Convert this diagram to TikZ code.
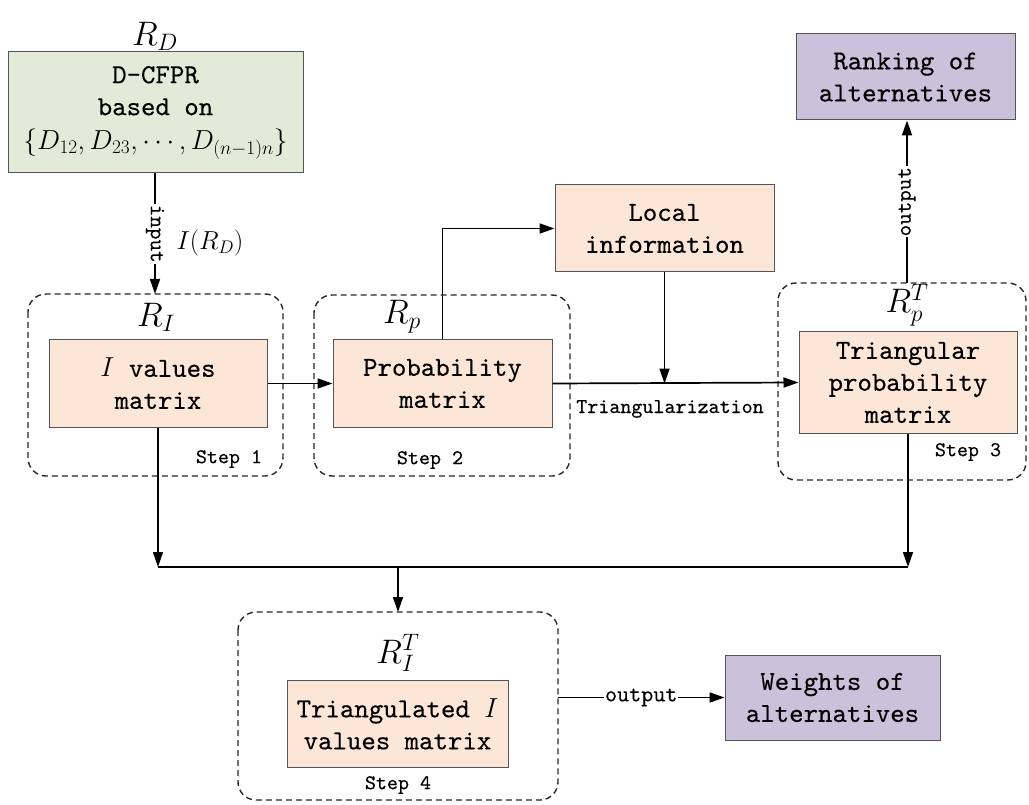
\RequirePackage{fix-cm}
\documentclass[tikz,border=0pt]{standalone}
\usepackage{fontspec}
\newfontfamily\boxfont[FakeBold=0.3]{lmmono10-regular.otf}
\usetikzlibrary{arrows.meta,positioning,calc}
\definecolor{peach}{HTML}{FCE6D7}
\definecolor{sage}{HTML}{E3EBD8}
\definecolor{lav}{HTML}{CBC1DA}
\definecolor{bord}{HTML}{555555}
\begin{document}
\begin{tikzpicture}[x=1pt,y=-1pt,
  box/.style={draw=bord,line width=1pt,fill=peach,align=center,inner sep=0pt,
    font=\boxfont\fontsize{27.5}{32}\selectfont},
  gbox/.style={box,fill=sage},
  pbox/.style={box,fill=lav},
  group/.style={draw=black!85,dashed,dash pattern=on 6pt off 4pt,line width=1.4pt,rounded corners=18pt},
  lbl/.style={font=\boxfont\fontsize{21}{24}\selectfont,inner sep=1pt},
  mlbl/.style={font=\fontsize{34}{36}\selectfont,inner sep=0pt},
  arr/.style={line width=1.7pt,-{Triangle[length=15pt,width=10pt]}},
  ln/.style={line width=1.7pt}]
\useasboundingbox (0,0) rectangle (1029,805);
% group frames
\draw[group] (28,294) rectangle (283,476);
\draw[group] (314,295) rectangle (570,476);
\draw[group] (778,283) rectangle (1026,480);
\draw[group] (238,612) rectangle (558,800);
% boxes
\node[gbox,minimum width=295pt,minimum height=121pt] (rd) at (155.5,112.5)
  {D-CFPR\\based on\\[2pt]$\{D_{12},D_{23},\cdots,D_{(n-1)n}\}$};
\node[mlbl] (rdl) at (155,36) {$R_D$};
\node[box,minimum width=218pt,minimum height=87pt] (b1) at (158,383.5) {$I$ values\\matrix};
\node[mlbl] (ril) at (156,317) {$R_I$};
\node[box,minimum width=219pt,minimum height=87pt] (b2) at (442.5,383.5) {Probability\\matrix};
\node[mlbl] (rpl) at (402,317) {$R_p$};
\node[box,minimum width=219pt,minimum height=87pt] (loc) at (664.5,228.5) {Local\\information};
\node[box,minimum width=218pt,minimum height=101pt] (b3) at (908,382.5) {Triangular\\probability\\matrix};
\node[mlbl] (rptl) at (907,305) {$R_p^T$};
\node[pbox,minimum width=219pt,minimum height=86pt] (rank) at (905.5,77) {Ranking of\\alternatives};
\node[box,minimum width=221pt,minimum height=87pt] (b4) at (397.5,724) {Triangulated $I$\\values matrix};
\node[mlbl] (ritl) at (398,653) {$R_I^T$};
\node[pbox,minimum width=215pt,minimum height=85pt] (wt) at (832.5,697.5) {Weights of\\alternatives};
% step labels
\node[lbl] (s1) at (229,459) {Step 1};
\node[lbl] (s2) at (430,460) {Step 2};
\node[lbl] (s3) at (968,452) {Step 3};
\node[lbl] (s4) at (398,785) {Step 4};
% coordinates
\coordinate (g1top) at (155,294);
\coordinate (g3top) at (907,283);
\coordinate (g4top) at (398,612);
\coordinate (g4right) at (558,697.5);
\coordinate (jl) at (158,567);
\coordinate (jr) at (908,567);
\coordinate (jm) at (398,567);
% connectors
\draw[arr] (rd.south -| g1top) -- node[lbl,fill=white,rotate=-90,font=\boxfont\fontsize{22}{24}\selectfont]{input} (g1top);
\node[font=\fontsize{26}{30}\selectfont] (ird) at (210,243) {$I(R_D)$};
\draw[arr] (b1.east) -- (b2.west);
\draw[arr] (b2.north) |- (loc.west);
\coordinate (tj) at (loc.south |- b2.east);
\draw[arr] (loc.south) -- (tj);
\draw[arr] (b2.east) -- (b3.west);
\node[lbl] (tri) at (670,409) {Triangularization};
\draw[arr] (g3top) -- node[lbl,fill=white,rotate=90,font=\boxfont\fontsize{22}{24}\selectfont]{output} (rank.south -| g3top);
\draw[arr] (b1.south) -- (jl);
\draw[arr] (b3.south) -- (jr);
\draw[ln] (jl) -- (jr);
\draw[arr] (jm) -- (g4top);
\draw[arr] (g4right) -- node[lbl,fill=white,font=\boxfont\fontsize{23}{24}\selectfont]{output} (wt.west);
\end{tikzpicture}
\end{document}
